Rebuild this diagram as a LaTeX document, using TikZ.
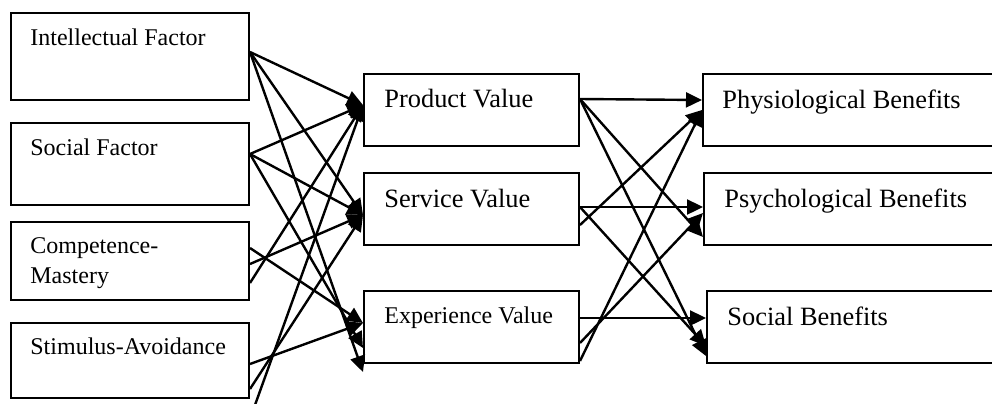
\documentclass[tikz,border=0pt]{standalone}
\usepackage{fontspec}
\setmainfont{Liberation Serif}
\usetikzlibrary{arrows.meta,calc}

\begin{document}
\begin{tikzpicture}[x=0.5pt,y=-0.5pt,
box/.style={draw,line width=1pt,anchor=north west,inner sep=0pt},
factor/.style={box,minimum width=119pt},
value/.style={box,minimum width=107.5pt,minimum height=36pt},
benefit/.style={box,minimum width=150pt,minimum height=36pt},
txt/.style={anchor=base west,inner sep=0pt,font=\fontsize{12}{14}\selectfont},
bigtxt/.style={txt,font=\fontsize{13.2}{15}\selectfont},
link/.style={line width=1.2pt,-{Triangle[length=8pt,width=7.5pt]}}
]
\clip (0,0) rectangle (992,403);

% motivation factors
\node[factor,minimum height=43.5pt] (intel) at (10,12) {};
\node[factor,minimum height=41pt] (social) at (10,122) {};
\node[factor,minimum height=39pt] (comp) at (10,221) {};
\node[factor,minimum height=37.5pt] (stim) at (10,322) {};
\node[txt] (intel-t) at ($(intel.north west)+(20,33)$) {Intellectual Factor};
\node[txt] (social-t) at ($(social.north west)+(20,33)$) {Social Factor};
\node[txt] (comp-t1) at ($(comp.north west)+(20,32)$) {Competence-};
\node[txt] (comp-t2) at ($(comp.north west)+(20,62)$) {Mastery};
\node[txt] (stim-t) at ($(stim.north west)+(20,32)$) {Stimulus-Avoidance};

% perceived values
\node[value] (prod) at (363,73) {};
\node[value] (serv) at (363,172) {};
\node[value] (exp) at (363,290) {};
\node[bigtxt] (prod-t) at ($(prod.north west)+(21,34)$) {Product Value};
\node[bigtxt] (serv-t) at ($(serv.north west)+(21,35)$) {Service Value};
\node[txt] (exp-t) at ($(exp.north west)+(21,33)$) {Experience Value};

% benefits
\node[benefit] (phys) at (702,73) {};
\node[benefit] (psych) at (703,172) {};
\node[benefit] (socb) at (706,290) {};
\node[bigtxt] (phys-t) at ($(phys.north west)+(20,35)$) {Physiological Benefits};
\node[bigtxt] (psych-t) at ($(psych.north west)+(21,35)$) {Psychological Benefits};
\node[bigtxt] (socb-t) at ($(socb.north west)+(21,35)$) {Social Benefits};

\coordinate (stimfoot) at ($(stim.south east)+(5,6)$);

% factors -> values
\draw[link] ($(intel.east)+(0,-4.5)$) -- ($(prod.west)+(0,-5)$);
\draw[link] ($(intel.east)+(0,-4.5)$) -- ($(serv.west)+(0,6)$);
\draw[link] ($(intel.east)+(0,-4.5)$) -- ($(exp.west)+(0,45)$);
\draw[link] ($(social.east)+(0,-10)$) -- ($(prod.west)+(0,-5)$);
\draw[link] ($(social.east)+(0,-10)$) -- ($(serv.west)+(0,6)$);
\draw[link] ($(social.east)+(0,-10)$) -- ($(exp.west)+(0,21)$);
\draw[link] ($(comp.east)+(0,22)$) -- ($(prod.west)+(0,-5)$);
\draw[link] ($(comp.east)+(0,3)$) -- ($(serv.west)+(0,6)$);
\draw[link] ($(comp.east)+(0,-13)$) -- ($(exp.west)+(0,-4)$);
\draw[link] (stimfoot) -- ($(prod.west)+(0,-5)$);
\draw[link] ($(stim.east)+(0,28.5)$) -- ($(serv.west)+(0,6)$);
\draw[link] ($(stim.east)+(0,3.5)$) -- ($(exp.west)+(0,-4)$);

% values -> benefits
\draw[link] ($(prod.east)+(0,-11)$) -- ($(phys.west)+(0,-10)$);
\draw[link] ($(prod.east)+(0,-11)$) -- ($(psych.west)+(0,28)$);
\draw[link] ($(prod.east)+(0,-11)$) -- ($(socb.west)+(0,29)$);
\draw[link] ($(serv.east)+(0,16)$) -- (phys.west);
\draw[link] ($(serv.east)+(0,-2)$) -- ($(psych.west)+(0,-2)$);
\draw[link] ($(serv.east)+(0,-2)$) -- ($(socb.west)+(0,19)$);
\draw[link] ($(exp.east)+(0,34)$) -- (phys.west);
\draw[link] ($(exp.east)+(0,16)$) -- ($(psych.west)+(0,4)$);
\draw[link] ($(exp.east)+(0,-9)$) -- ($(socb.west)+(0,-9)$);
\end{tikzpicture}
\end{document}
